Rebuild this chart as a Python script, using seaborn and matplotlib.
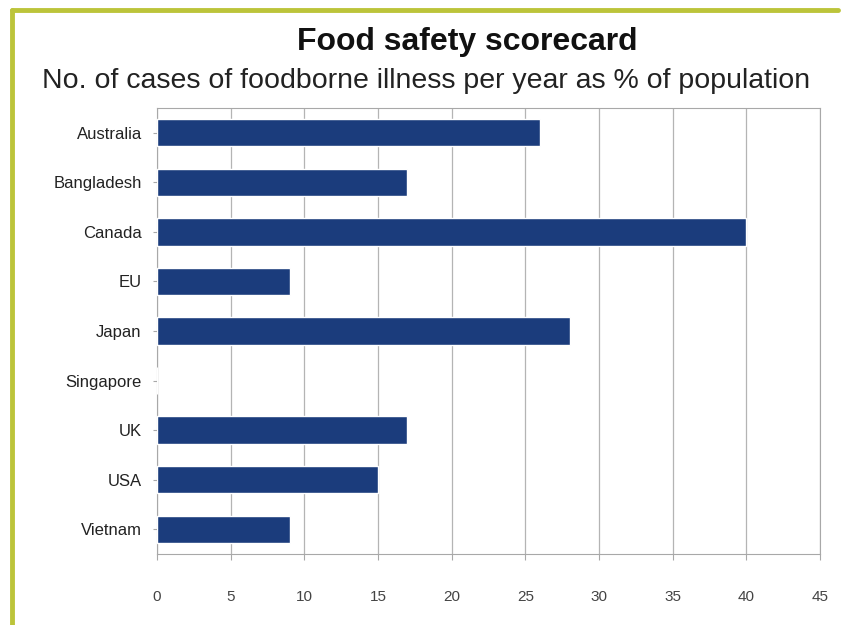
import pandas as pd
import matplotlib
matplotlib.use("Agg")
import matplotlib.pyplot as plt
import seaborn as sns

# datos
countries = ["Australia", "Bangladesh", "Canada", "EU", "Japan",
             "Singapore", "UK", "USA", "Vietnam"]
pct_cases = [26, 17, 40, 9, 28, 0, 17, 15, 9]
x_ticks = [0, 5, 10, 15, 20, 25, 30, 35, 40, 45]

df = pd.DataFrame({"country": countries, "pct": pct_cases})

sns.set_style("white")
plt.rcParams["font.family"] = ["Liberation Sans", "DejaVu Sans"]

fig = plt.figure(figsize=(8.53, 6.25), dpi=100)
ax = fig.add_axes([157 / 853, 1 - 554 / 625, (820 - 157) / 853, (554 - 108) / 625])

sns.barplot(data=df, x="pct", y="country", order=countries, color="#1b3c7c",
            width=0.55, saturation=1, ax=ax, zorder=3)

ax.set_xlim(0, 45)
ax.set_xticks(x_ticks)
ax.set_xlabel("")
ax.set_ylabel("")
ax.grid(axis="x", color="#b4b4b4", linewidth=0.9, zorder=0)
for s in ax.spines.values():
    s.set_color("#a8a8a8")
ax.tick_params(axis="x", labelsize=11, colors="#444444", pad=22, length=4, color="#a8a8a8")
ax.tick_params(axis="y", labelsize=12, colors="#222222", pad=8, length=3, color="#a8a8a8")
ax.xaxis.set_ticks_position("bottom")
ax.yaxis.set_ticks_position("left")

fig.text(0.548, 1 - 42 / 625, "Food safety scorecard", ha="center", va="center",
         fontsize=23, fontweight="bold", color="#111111")
fig.text(0.5, 1 - 81 / 625, "No. of cases of foodborne illness per year as % of population",
         ha="center", va="center", fontsize=20.5, color="#222222")

# marco verde amarillento
border = "#bcc43a"
fig.add_artist(plt.Line2D([12 / 853, 12 / 853], [0, 1 - 10 / 625], color=border,
                          linewidth=3.5, transform=fig.transFigure))
fig.add_artist(plt.Line2D([12 / 853, 838 / 853], [1 - 10 / 625, 1 - 10 / 625], color=border,
                          linewidth=3.5, transform=fig.transFigure))

fig.savefig("out.png", dpi=100)
